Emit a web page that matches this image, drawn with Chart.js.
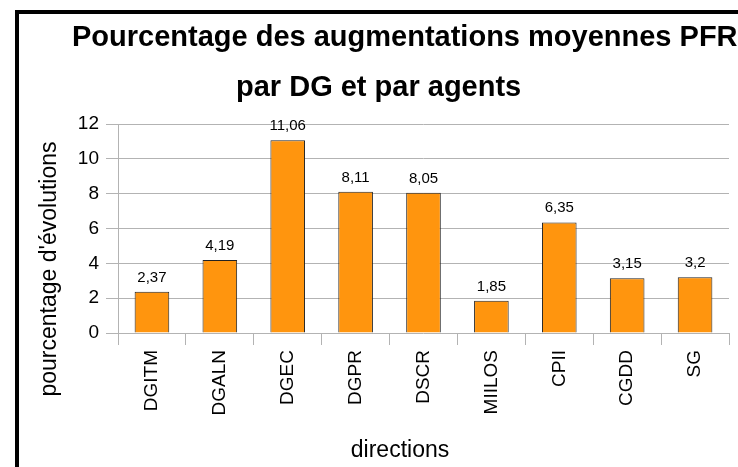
<!DOCTYPE html>
<html><head><meta charset="utf-8">
<script src="https://cdn.jsdelivr.net/npm/chart.js@4/dist/chart.umd.min.js"></script>
<style>html,body{margin:0;padding:0;background:#fff}#wrap{width:738px;height:467px;position:relative}</style>
</head><body><div id="wrap"><canvas id="c" width="738" height="467"></canvas></div>
<script>
const categories = ['DGITM','DGALN','DGEC','DGPR','DSCR','MIILOS','CPII','CGDD','SG'];
const values = [2.37, 4.19, 11.06, 8.11, 8.05, 1.85, 6.35, 3.15, 3.2];
const yTickLabels = ['0','2','4','6','8','10','12'];
const titleLines = ['Pourcentage des augmentations moyennes PFR', 'par DG et par agents'];
const xAxisTitle = 'directions';
const yAxisTitle = "pourcentage d'évolutions";

const FONT = "'Liberation Sans', Arial, sans-serif";
const GRID = '#b3b3b3';

const decor = {
  id: 'decor',
  beforeDraw(chart) {
    const c = chart.ctx;
    c.save();
    c.fillStyle = '#fff';
    c.fillRect(0, 0, chart.width, chart.height);
    c.fillStyle = '#000';
    c.fillRect(15, 10, chart.width - 15, 4);
    c.fillRect(15, 10, 4, chart.height - 10);
    c.restore();
  },
  afterDraw(chart) {
    const c = chart.ctx;
    c.save();
    c.fillStyle = '#000';
    // title
    c.font = 'bold 29px ' + FONT;
    c.textBaseline = 'alphabetic';
    c.textAlign = 'left';
    c.fillText(titleLines[0], 72, 46);
    c.fillText(titleLines[1], 236, 96);
    // x axis title
    c.font = '23px ' + FONT;
    c.textAlign = 'center';
    c.fillText(xAxisTitle, 400, 457);
    // y axis title
    c.save();
    c.translate(56, 269);
    c.rotate(-Math.PI / 2);
    c.fillText(yAxisTitle, 0, 0);
    c.restore();
    // data labels
    c.font = '15px ' + FONT;
    c.textAlign = 'center';
    const meta = chart.getDatasetMeta(0);
    meta.data.forEach((bar, i) => {
      c.fillText(String(values[i]).replace('.', ','), bar.x, bar.y - 10);
    });
    c.restore();
  }
};

new Chart(document.getElementById('c'), {
  type: 'bar',
  data: {
    labels: categories,
    datasets: [{
      data: values,
      backgroundColor: '#ff950e',
      borderColor: '#222',
      borderWidth: 1,
      categoryPercentage: 1,
      barPercentage: 0.51
    }]
  },
  options: {
    responsive: false,
    animation: false,
    devicePixelRatio: 1,
    layout: { padding: { left: 0, top: 124, right: 9, bottom: 0 } },
    plugins: { legend: { display: false }, title: { display: false }, tooltip: { enabled: false } },
    scales: {
      x: {
        grid: {
          offset: true,
          color: ctx => (ctx.index === 0 || ctx.index === categories.length) ? GRID : 'rgba(0,0,0,0)',
          tickColor: GRID,
          tickLength: 12,
          lineWidth: 1
        },
        border: { display: false },
        ticks: {
          minRotation: 90, maxRotation: 90, autoSkip: false, padding: 5,
          color: '#000', font: { family: FONT, size: 19 }
        },
        afterFit: s => { s.height = 134; }
      },
      y: {
        min: 0, max: 12,
        grid: { color: GRID, tickColor: GRID, tickLength: 12, lineWidth: 1 },
        border: { display: false },
        ticks: {
          stepSize: 2, padding: 7, color: '#000', font: { family: FONT, size: 19 },
          callback: (v, i) => yTickLabels[i]
        },
        afterFit: s => { s.width = 118; }
      }
    }
  },
  plugins: [decor]
});
</script>
</body></html>
